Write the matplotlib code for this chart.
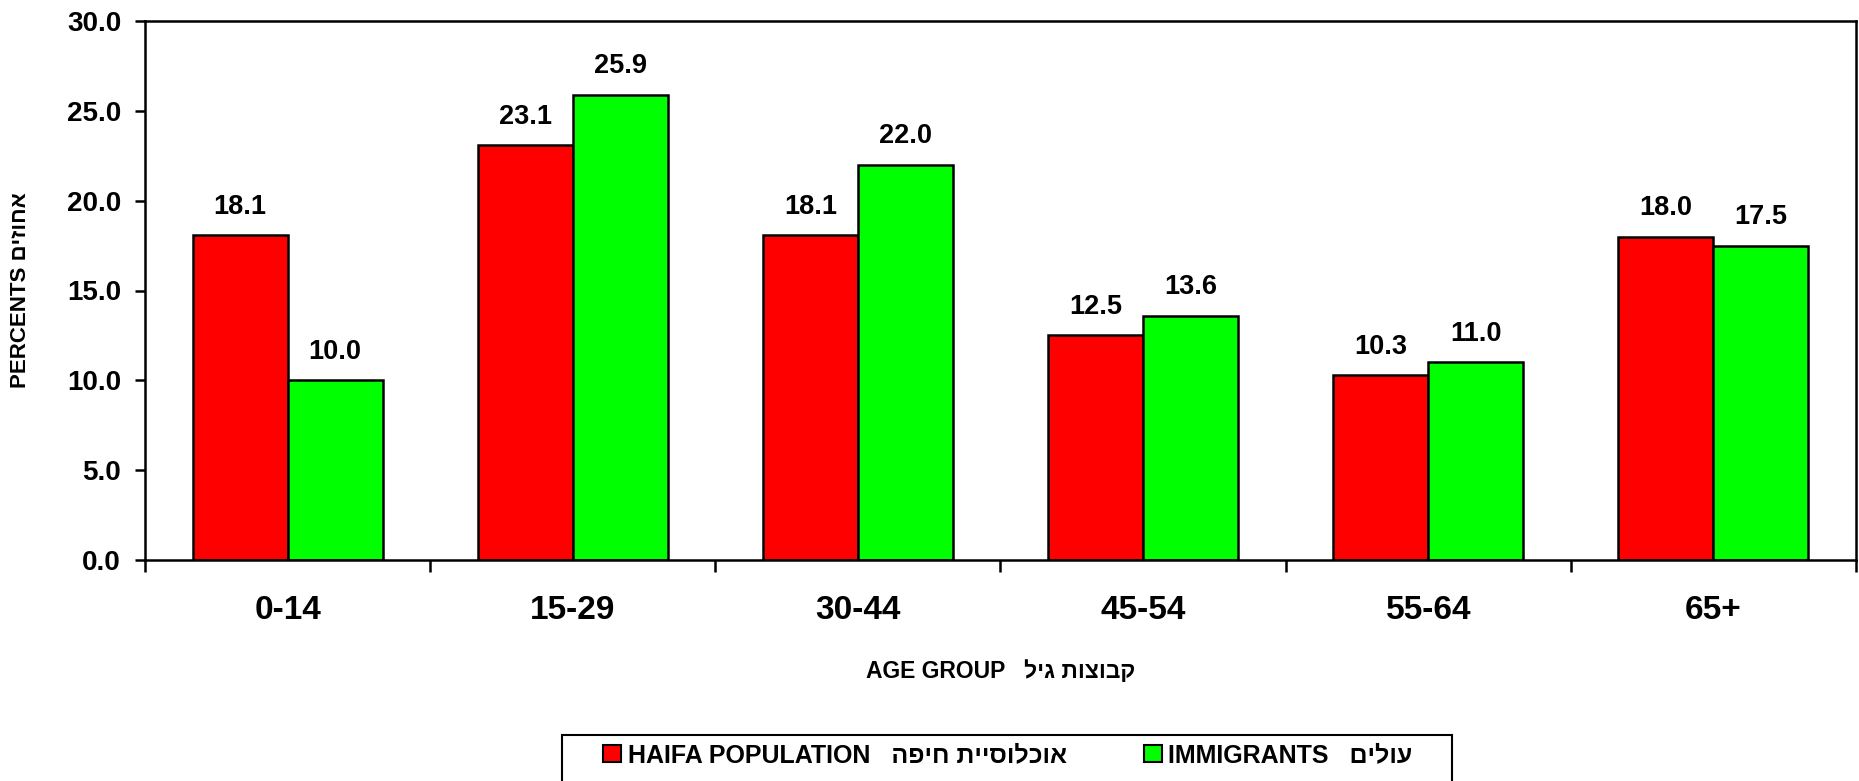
import numpy as np
import matplotlib
matplotlib.use("Agg")
import matplotlib.pyplot as plt
from matplotlib.patches import Patch, Rectangle
from matplotlib.ticker import FormatStrFormatter, FixedLocator

plt.rcParams['font.family'] = ['Liberation Sans', 'DejaVu Sans']
plt.rcParams['font.weight'] = 'bold'


def rtl(s):
    # matplotlib has no bidi support, so flip Hebrew into visual order
    return s[::-1]


# data
age_groups = ['0-14', '15-29', '30-44', '45-54', '55-64', '65+']
haifa = [18.1, 23.1, 18.1, 12.5, 10.3, 18.0]
immigrants = [10.0, 25.9, 22.0, 13.6, 11.0, 17.5]
y_ticks = [0, 5, 10, 15, 20, 25, 30]

W, H = 1859, 781
fig = plt.figure(figsize=(W / 100, H / 100), dpi=100)
ax = fig.add_axes([145 / W, 1 - 560 / H, (1856 - 145) / W, (560 - 21) / H])

x = np.arange(len(age_groups))
bw = 1 / 3

b1 = ax.bar(x - bw / 2, haifa, bw, color='#FF0000', edgecolor='black', linewidth=1.8)
b2 = ax.bar(x + bw / 2, immigrants, bw, color='#00FF00', edgecolor='black', linewidth=1.8)

for bars in (b1, b2):
    ax.bar_label(bars, fmt='%.1f', padding=11, fontsize=19.5, fontweight='bold')

ax.set_xlim(-0.5, len(age_groups) - 0.5)
ax.set_ylim(0, 30)
ax.set_yticks(y_ticks)
ax.yaxis.set_major_formatter(FormatStrFormatter('%.1f'))

ax.set_xticks(x)
ax.set_xticklabels(age_groups, fontsize=24, fontweight='bold')
ax.xaxis.set_minor_locator(FixedLocator(np.arange(len(age_groups) + 1) - 0.5))
ax.tick_params(axis='x', which='major', length=0, pad=25)
ax.tick_params(axis='x', which='minor', length=8.5, width=1.8, direction='out')
ax.tick_params(axis='y', length=7.2, width=1.8, direction='out', pad=10, labelsize=20)
for lab in ax.get_yticklabels():
    lab.set_fontweight('bold')

for sp in ax.spines.values():
    sp.set_linewidth(1.8)
    sp.set_color('black')

ax.set_xlabel('AGE GROUP   ' + rtl('קבוצות גיל'), fontsize=16.5, fontweight='bold', va='center')
ax.xaxis.set_label_coords(0.5, (560 - 672) / (560 - 21))
ax.set_ylabel('PERCENTS ' + rtl('אחוזים'), fontsize=16, fontweight='bold', va='center')
ax.yaxis.set_label_coords((21 - 145) / (1856 - 145), 0.5)

# legend row, the box runs off the bottom of the image
handles = [Patch(facecolor='#FF0000', edgecolor='black', linewidth=1.5),
           Patch(facecolor='#00FF00', edgecolor='black', linewidth=1.5)]
labels = ['HAIFA POPULATION   ' + rtl('אוכלוסיית חיפה'),
          'IMMIGRANTS   ' + rtl('עולים')]
fig.legend(handles, labels, loc='upper left', bbox_to_anchor=(603 / W, 1 - 743 / H),
           ncol=2, frameon=False, handlelength=0.7, handleheight=0.7,
           handletextpad=0.28, columnspacing=3.1, borderpad=0, borderaxespad=0,
           prop={'weight': 'bold', 'size': 18})
fig.patches.append(Rectangle((562 / W, -0.1), (1452 - 562) / W, (1 - 735 / H) + 0.1,
                             transform=fig.transFigure, fill=False,
                             edgecolor='black', linewidth=1.5))

fig.savefig('out.png', dpi=100)
